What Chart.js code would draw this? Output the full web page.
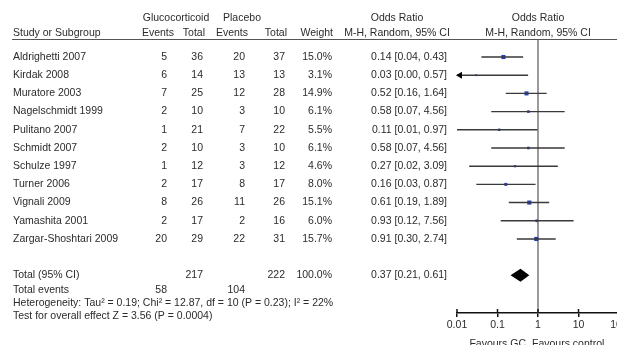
<!DOCTYPE html>
<html>
<head>
<meta charset="utf-8">
<script src="https://cdn.jsdelivr.net/npm/chart.js@4"></script>
<style>
  html, body { margin: 0; padding: 0; background: #fff; overflow: hidden; }
  #wrap { position: relative; width: 640px; height: 345px; }
</style>
</head>
<body>
<div id="wrap"><canvas id="forest"></canvas></div>
<script>
// Data
const studies = ['Aldrighetti 2007', 'Kirdak 2008', 'Muratore 2003', 'Nagelschmidt 1999', 'Pulitano 2007',
  'Schmidt 2007', 'Schulze 1997', 'Turner 2006', 'Vignali 2009', 'Yamashita 2001', 'Zargar-Shoshtari 2009'];
const gcEvents = [5, 6, 7, 2, 1, 2, 1, 2, 8, 2, 20];
const gcTotal = [36, 14, 25, 10, 21, 10, 12, 17, 26, 17, 29];
const pbEvents = [20, 13, 12, 3, 7, 3, 3, 8, 11, 2, 22];
const pbTotal = [37, 13, 28, 10, 22, 10, 12, 17, 26, 16, 31];
const weights = [15.0, 3.1, 14.9, 6.1, 5.5, 6.1, 4.6, 8.0, 15.1, 6.0, 15.7];
const orEst = [0.14, 0.03, 0.52, 0.58, 0.11, 0.58, 0.27, 0.16, 0.61, 0.93, 0.91];
const orLow = [0.04, 0.00, 0.16, 0.07, 0.01, 0.07, 0.02, 0.03, 0.19, 0.12, 0.30];
const orHigh = [0.43, 0.57, 1.64, 4.56, 0.97, 4.56, 3.09, 0.87, 1.89, 7.56, 2.74];

// pooled result
const totalOR = [0.37, 0.21, 0.61]; // estimate, low, high
const totalN = [217, 222];
const totalEvents = [58, 104];
const heterogeneity = 'Heterogeneity: Tau\u00b2 = 0.19; Chi\u00b2 = 12.87, df = 10 (P = 0.23); I\u00b2 = 22%';
const overallTest = 'Test for overall effect Z = 3.56 (P = 0.0004)';

const xTicks = [0.01, 0.1, 1, 10, 100];
const xTickLabels = ['0.01', '0.1', '1', '10', '100'];

const FONT = '10.5px "Liberation Sans", Arial, sans-serif';
const INK = '#2b2b2b';
const TOTAL_ROW = studies.length + 1;

// CI segments, broken by gaps
const ciPoints = [];
studies.forEach((s, i) => {
  ciPoints.push({x: Math.max(orLow[i], xTicks[0]), y: i}, {x: orHigh[i], y: i}, {x: orHigh[i], y: null});
});

const forestTable = {
  id: 'forestTable',
  beforeDatasetsDraw(chart) {
    const {ctx, chartArea, scales: {x}} = chart;
    const px = x.getPixelForValue(1);
    ctx.save();
    ctx.strokeStyle = '#7a7a7a';
    ctx.lineWidth = 1.5;
    ctx.beginPath();
    ctx.moveTo(px, chartArea.top);
    ctx.lineTo(px, chartArea.bottom);
    ctx.stroke();
    ctx.restore();
  },
  afterDraw(chart) {
    const {ctx, chartArea, scales: {x, y}} = chart;
    const row = v => y.getPixelForValue(v);
    const txt = (s, px, py, align) => { ctx.textAlign = align || 'left'; ctx.fillText(s, px, py); };
    ctx.save();

    // header line
    ctx.strokeStyle = '#555';
    ctx.lineWidth = 1;
    ctx.beginPath();
    ctx.moveTo(12, chartArea.top + 0.5);
    ctx.lineTo(chart.width, chartArea.top + 0.5);
    ctx.stroke();

    ctx.font = FONT;
    ctx.fillStyle = INK;
    ctx.textBaseline = 'middle';

    const h1 = row(-2.14), h2 = row(-1.32);
    txt('Glucocorticoid', 176, h1, 'center');
    txt('Placebo', 242, h1, 'center');
    txt('Odds Ratio', 397, h1, 'center');
    txt('Odds Ratio', 538, h1, 'center');
    txt('Study or Subgroup', 13, h2);
    txt('Events', 174, h2, 'right');
    txt('Total', 205, h2, 'right');
    txt('Events', 248, h2, 'right');
    txt('Total', 287, h2, 'right');
    txt('Weight', 333, h2, 'right');
    txt('M-H, Random, 95% CI', 397, h2, 'center');
    txt('M-H, Random, 95% CI', 538, h2, 'center');

    studies.forEach((s, i) => {
      const py = row(i);
      txt(s, 13, py);
      txt(String(gcEvents[i]), 167, py, 'right');
      txt(String(gcTotal[i]), 203, py, 'right');
      txt(String(pbEvents[i]), 245, py, 'right');
      txt(String(pbTotal[i]), 285, py, 'right');
      txt(weights[i].toFixed(1) + '%', 332, py, 'right');
      txt(`${orEst[i].toFixed(2)} [${orLow[i].toFixed(2)}, ${orHigh[i].toFixed(2)}]`, 447, py, 'right');
    });

    const ty = row(TOTAL_ROW);
    txt('Total (95% CI)', 13, ty);
    txt(String(totalN[0]), 203, ty, 'right');
    txt(String(totalN[1]), 285, ty, 'right');
    txt('100.0%', 332, ty, 'right');
    txt(`${totalOR[0].toFixed(2)} [${totalOR[1].toFixed(2)}, ${totalOR[2].toFixed(2)}]`, 447, ty, 'right');

    const ey = row(TOTAL_ROW + 0.8);
    txt('Total events', 13, ey);
    txt(String(totalEvents[0]), 167, ey, 'right');
    txt(String(totalEvents[1]), 245, ey, 'right');
    txt(heterogeneity, 13, row(TOTAL_ROW + 1.52));
    txt(overallTest, 13, row(TOTAL_ROW + 2.23));

    // favours labels under the axis
    const one = x.getPixelForValue(1);
    txt('Favours GC', one - 12, chartArea.bottom + 31, 'right');
    txt('Favours control', one - 6, chartArea.bottom + 31, 'left');

    // pooled diamond
    ctx.fillStyle = '#000';
    ctx.beginPath();
    ctx.moveTo(x.getPixelForValue(totalOR[1]), ty);
    ctx.lineTo(x.getPixelForValue(totalOR[0]), ty - 6.5);
    ctx.lineTo(x.getPixelForValue(totalOR[2]), ty);
    ctx.lineTo(x.getPixelForValue(totalOR[0]), ty + 6.5);
    ctx.closePath();
    ctx.fill();

    // arrows for CIs running off the axis
    studies.forEach((s, i) => {
      if (orLow[i] < xTicks[0]) {
        const py = row(i), lx = chartArea.left - 1;
        ctx.beginPath();
        ctx.moveTo(lx, py);
        ctx.lineTo(lx + 6, py - 3.5);
        ctx.lineTo(lx + 6, py + 3.5);
        ctx.closePath();
        ctx.fill();
      }
    });

    // upper half of the axis tick marks
    ctx.strokeStyle = '#111';
    ctx.lineWidth = 1.5;
    xTicks.forEach(v => {
      const px = x.getPixelForValue(v);
      ctx.beginPath();
      ctx.moveTo(px, chartArea.bottom - 4);
      ctx.lineTo(px, chartArea.bottom);
      ctx.stroke();
    });
    ctx.restore();
  }
};

new Chart(document.getElementById('forest'), {
  type: 'scatter',
  data: {
    datasets: [
      {
        type: 'line',
        data: ciPoints,
        borderColor: '#3a3a3a',
        borderWidth: 1.4,
        pointRadius: 0,
        spanGaps: false,
        fill: false
      },
      {
        data: studies.map((s, i) => ({x: orEst[i], y: i})),
        pointStyle: 'rect',
        pointRadius: weights.map(w => 0.75 * Math.sqrt(w)),
        backgroundColor: '#2443b8',
        borderWidth: 0
      }
    ]
  },
  options: {
    responsive: true,
    maintainAspectRatio: false,
    animation: false,
    events: [],
    layout: { padding: { top: 39, left: 457, right: 21, bottom: 0 } },
    plugins: { legend: { display: false }, tooltip: { enabled: false } },
    scales: {
      x: {
        type: 'logarithmic',
        min: 0.01,
        max: 100,
        afterBuildTicks: s => { s.ticks = xTicks.map(v => ({value: v})); },
        afterFit: s => { s.height = 32; },
        ticks: {
          callback: (v, i) => xTickLabels[i],
          font: { family: '"Liberation Sans", Arial, sans-serif', size: 10.5 },
          color: INK,
          padding: 2,
          autoSkip: false,
          maxRotation: 0
        },
        grid: { drawOnChartArea: false, tickLength: 4, color: '#111', lineWidth: 1.5 },
        border: { color: '#111', width: 1.5 }
      },
      y: {
        type: 'linear',
        reverse: true,
        min: -0.99,
        max: 14.07,
        display: false
      }
    }
  },
  plugins: [forestTable]
});
</script>
</body>
</html>
